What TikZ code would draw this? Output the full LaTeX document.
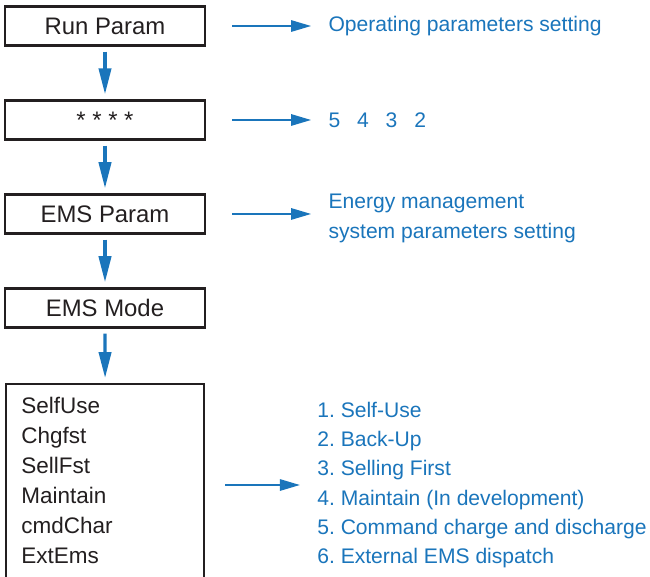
\documentclass[tikz,border=0pt]{standalone}
\usepackage{fontspec}
\setmainfont{Liberation Sans}
\usetikzlibrary{positioning,arrows.meta}
\definecolor{flowblue}{RGB}{26,117,187}
\definecolor{boxline}{RGB}{35,31,32}
\frenchspacing

\begin{document}
\begin{tikzpicture}[
        x=0.02cm, y=-0.02cm,
        node distance = 1.88cm,
        box/.style={draw=boxline, line width=1.4pt, minimum width=4cm, minimum height=0.78cm, text=boxline, font=\fontsize{13.6}{16}\selectfont},
        modebox/.style={draw=boxline, line width=1.4pt, minimum width=3.96cm, minimum height=4.6cm, inner sep=0pt},
        note/.style={text=flowblue, inner sep=0pt, align=left, font=\fontsize{12}{17.07}\selectfont},
        down/.style={draw=flowblue, line width=1.8pt, -{Triangle[length=14.8pt,width=7pt]}, shorten <=0.1cm, shorten >=0.1cm},
        side/.style={draw=flowblue, line width=1.15pt, -{Triangle[length=11.4pt,width=6.4pt]}, shorten >=0.34cm}]
        \useasboundingbox (0,0) rectangle (650,576);
        \clip (0,0) rectangle (650,576);
        % NODES
        % menu boxes
        \node[box] (RunParam) at (105,26) {Run Param};
        \node[box, below of = RunParam] (Pwd) {* * * *};
        \node[box, below of = Pwd] (EmsParam) {EMS Param};
        \node[box, below of = EmsParam] (EmsMode) {EMS Mode};
        % mode list box, open at the bottom
        \node[modebox, anchor=north west] (Modes) at (5,383) {};
        \node[inner sep=0pt, align=left, text=boxline, anchor=north west, font=\fontsize{12.8}{17.07}\selectfont] (ModeList) at ([shift={(16,14)}]Modes.north west) {SelfUse\\Chgfst\\SellFst\\Maintain\\cmdChar\\ExtEms};
        % notes
        \node[note, right = 2.44cm of RunParam] (RunNote) {Operating parameters setting};
        \node[note, right = 2.44cm of Pwd] (PwdNote) {5\hspace{0.8em}4\hspace{0.8em}3\hspace{0.8em}2};
        \node[note, right = 2.44cm of EmsParam, yshift=-0.08cm] (EmsNote) {Energy management\\system parameters setting};
        \node[note, anchor=west, font=\fontsize{12}{16.6}\selectfont] (ModeNote) at (317,485) {1. Self-Use\\2. Back-Up\\3. Selling First\\4. Maintain (In development)\\5. Command charge and discharge\\6. External EMS dispatch};

        % ARROWS
        \draw[down] (RunParam)--(Pwd);
        \draw[down] (Pwd)--(EmsParam);
        \draw[down] (EmsParam)--(EmsMode);
        \draw[down] (EmsMode)--(Modes);
        \draw[side, shorten <=0.52cm] (RunParam.east)--(RunParam.east -| RunNote.west);
        \draw[side, shorten <=0.52cm] (Pwd.east)--(Pwd.east -| PwdNote.west);
        \draw[side, shorten <=0.52cm] (EmsParam.east)--(EmsParam.east -| EmsNote.west);
        \draw[side, shorten <=0.4cm] (Modes.east |- ModeNote.west)--(ModeNote.west);
    \end{tikzpicture}
\end{document}
